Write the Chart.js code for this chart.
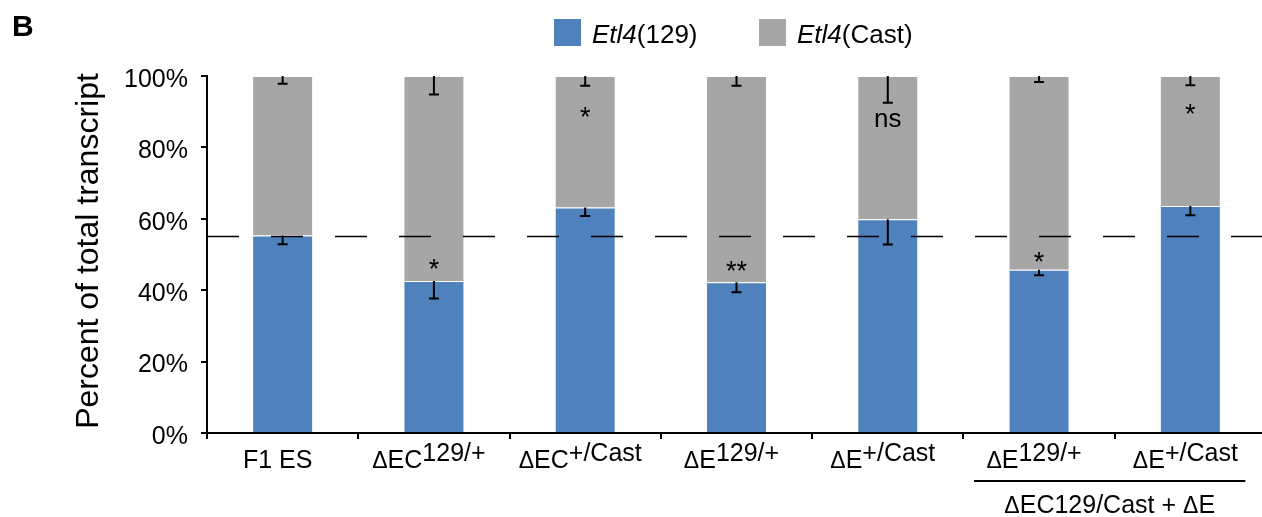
<!DOCTYPE html>
<html>
<head>
<meta charset="utf-8">
<script src="https://cdn.jsdelivr.net/npm/chart.js@4.4.1/dist/chart.umd.min.js"></script>
<style>
  html, body { margin: 0; padding: 0; background: #fff; overflow: hidden; }
  #wrap { position: relative; width: 1270px; height: 517px; }
</style>
</head>
<body>
<div id="wrap"><canvas id="c" width="1270" height="517"></canvas></div>
<script>
// Category labels: base part (leading Δ drawn smaller) and superscript part
const catBase = ['F1 ES', 'ΔEC', 'ΔEC', 'ΔE', 'ΔE', 'ΔE', 'ΔE'];
const catSup  = ['', '129/+', '+/Cast', '129/+', '+/Cast', '129/+', '+/Cast'];
const categories = catBase.map((b, i) => b + catSup[i]);

// Allelic share of Etl4 transcript (%)
const share129  = [55.3, 42.6, 63.2, 42.2, 59.9, 45.7, 63.6];
const shareCast = [44.7, 57.4, 36.8, 57.8, 40.1, 54.3, 36.4];
// Error (one-sided, drawn downward from each segment top)
const err129  = [2.4, 4.9, 2.4, 2.8, 7.1, 1.5, 2.6];
const errCast = [2.2, 5.2, 2.7, 2.7, 7.5, 1.7, 2.6];

// Significance marks and the level (%) at which each is centred
const sigText = ['', '*', '*', '**', 'ns', '*', '*'];
const sigAt   = [0, 47.6, 90.2, 47.0, 87.7, 49.5, 91.0];

// Reference level (F1 ES 129 share)
const refLevel = 55.3;

const yTicks = [0, 20, 40, 60, 80, 100];

const BLUE = '#4F81BD';
const GRAY = '#A6A6A6';
const FONT = "'Liberation Sans', Arial, Helvetica, sans-serif";

function drawRich(ctx, segs, cx, baseY) {
  // segs: [{text, size, style, dy}] ; centred on cx
  let total = 0;
  segs.forEach(s => {
    ctx.font = `${s.style || ''} ${s.size}px ${FONT}`;
    s.w = ctx.measureText(s.text).width;
    total += s.w;
  });
  let x = cx - total / 2;
  ctx.textAlign = 'left';
  ctx.textBaseline = 'alphabetic';
  segs.forEach(s => {
    ctx.font = `${s.style || ''} ${s.size}px ${FONT}`;
    ctx.fillText(s.text, x, baseY + (s.dy || 0));
    x += s.w;
  });
}

function splitDelta(str, size, dSize) {
  // turn "ΔEC129/Cast" style strings into segments with a smaller Δ
  const segs = [];
  let buf = '';
  for (const ch of str) {
    if (ch === 'Δ') {
      if (buf) { segs.push({ text: buf, size }); buf = ''; }
      segs.push({ text: 'Δ', size: dSize });
    } else buf += ch;
  }
  if (buf) segs.push({ text: buf, size });
  return segs;
}

const overlay = {
  id: 'overlay',
  afterDatasetsDraw(chart) {
    const { ctx, chartArea, scales: { x, y } } = chart;
    ctx.save();
    // dashed reference line
    ctx.strokeStyle = '#000';
    ctx.lineWidth = 1.6;
    ctx.setLineDash([32, 32]);
    const ry = Math.round(y.getPixelForValue(refLevel)) + 0.5;
    ctx.beginPath();
    ctx.moveTo(chartArea.left, ry);
    ctx.lineTo(chart.width, ry);
    ctx.stroke();
    ctx.setLineDash([]);

    // error bars
    ctx.lineWidth = 2;
    const capHalf = 5;
    const bar = (px, v0, v1) => {
      const a = y.getPixelForValue(v0), b = y.getPixelForValue(v1);
      ctx.beginPath();
      ctx.moveTo(px, a); ctx.lineTo(px, b);
      ctx.moveTo(px - capHalf, b); ctx.lineTo(px + capHalf, b);
      ctx.stroke();
    };
    categories.forEach((c, i) => {
      const px = x.getPixelForValue(i);
      bar(px, share129[i], share129[i] - err129[i]);
      const top = share129[i] + shareCast[i];
      bar(px, top, top - errCast[i]);
    });

    // significance marks
    ctx.fillStyle = '#000';
    ctx.textAlign = 'center';
    ctx.textBaseline = 'alphabetic';
    categories.forEach((c, i) => {
      const t = sigText[i];
      if (!t) return;
      const px = x.getPixelForValue(i);
      const py = y.getPixelForValue(sigAt[i]);
      if (t === 'ns') {
        ctx.font = `26px ${FONT}`;
        ctx.fillText(t, px, py + 7);
      } else {
        ctx.font = `27px ${FONT}`;
        ctx.fillText(t, px, py + 15);
      }
    });
    ctx.restore();
  },
  afterDraw(chart) {
    const { ctx, chartArea, scales: { x } } = chart;
    ctx.save();
    ctx.fillStyle = '#000';

    // category labels with superscripts
    categories.forEach((c, i) => {
      const px = x.getPixelForValue(i) - 5;
      const segs = splitDelta(catBase[i], 25, 23);
      if (catSup[i]) segs.push({ text: catSup[i], size: 25, dy: -7 });
      drawRich(ctx, segs, px, 468);
    });

    // bracket for the compound genotype group
    const gx0 = x.getPixelForValue(5) - 65;
    const gx1 = x.getPixelForValue(6) + 55;
    ctx.strokeStyle = '#000';
    ctx.lineWidth = 2;
    ctx.beginPath();
    ctx.moveTo(gx0, 481); ctx.lineTo(gx1, 481);
    ctx.stroke();
    drawRich(ctx, splitDelta('ΔEC129/Cast + ΔE', 25, 23), (gx0 + gx1) / 2, 513);

    // y-axis title
    ctx.save();
    ctx.translate(98, 251);
    ctx.rotate(-Math.PI / 2);
    ctx.font = `32px ${FONT}`;
    ctx.textAlign = 'center';
    ctx.textBaseline = 'alphabetic';
    ctx.fillText('Percent of total transcript', 0, 0);
    ctx.restore();

    // panel letter
    ctx.font = `bold 30px ${FONT}`;
    ctx.textAlign = 'left';
    ctx.fillText('B', 12, 36);

    // legend
    const items = [
      { color: BLUE, x: 554, w: 27, allele: '(129)' },
      { color: GRAY, x: 759, w: 27, allele: '(Cast)' }
    ];
    items.forEach(it => {
      ctx.fillStyle = it.color;
      ctx.fillRect(it.x, 19, it.w, 27);
      ctx.fillStyle = '#000';
      ctx.textAlign = 'left';
      ctx.font = `italic 26px ${FONT}`;
      const tx = it.x + it.w + 11;
      ctx.fillText('Etl4', tx, 43);
      const w = ctx.measureText('Etl4').width;
      ctx.font = `26px ${FONT}`;
      ctx.fillText(it.allele, tx + w, 43);
    });
    ctx.restore();
  }
};

new Chart(document.getElementById('c'), {
  type: 'bar',
  data: {
    labels: categories,
    datasets: [
      { label: 'Etl4(129)', data: share129, backgroundColor: BLUE,
        borderColor: 'rgba(255,255,255,0.5)', borderWidth: 1,
        barPercentage: 0.403, categoryPercentage: 1 },
      { label: 'Etl4(Cast)', data: shareCast, backgroundColor: GRAY,
        borderColor: 'rgba(255,255,255,0.5)', borderWidth: 1,
        barPercentage: 0.403, categoryPercentage: 1 }
    ]
  },
  options: {
    responsive: false,
    animation: false,
    devicePixelRatio: 1,
    layout: { padding: { top: 76, right: 4, left: 0, bottom: 0 } },
    plugins: { legend: { display: false }, tooltip: { enabled: false } },
    scales: {
      x: {
        stacked: true,
        z: 1,
        grid: { display: true, drawOnChartArea: false, drawTicks: true, tickLength: 6,
                color: '#000', lineWidth: 2, offset: true },
        border: { display: true, color: '#000', width: 2 },
        ticks: { display: false },
        afterFit: s => { s.height = 84; }
      },
      y: {
        stacked: true,
        min: 0, max: 100,
        afterBuildTicks: s => { s.ticks = yTicks.map(v => ({ value: v })); },
        grid: { drawOnChartArea: false, drawTicks: true, tickLength: 6, color: '#000', lineWidth: 2 },
        border: { display: true, color: '#000', width: 2 },
        ticks: { color: '#000', font: { size: 25, family: FONT }, padding: 13, labelOffset: 4,
                 callback: v => v + '%' },
        afterFit: s => { s.width = 207; }
      }
    }
  },
  plugins: [overlay]
});
</script>
</body>
</html>
